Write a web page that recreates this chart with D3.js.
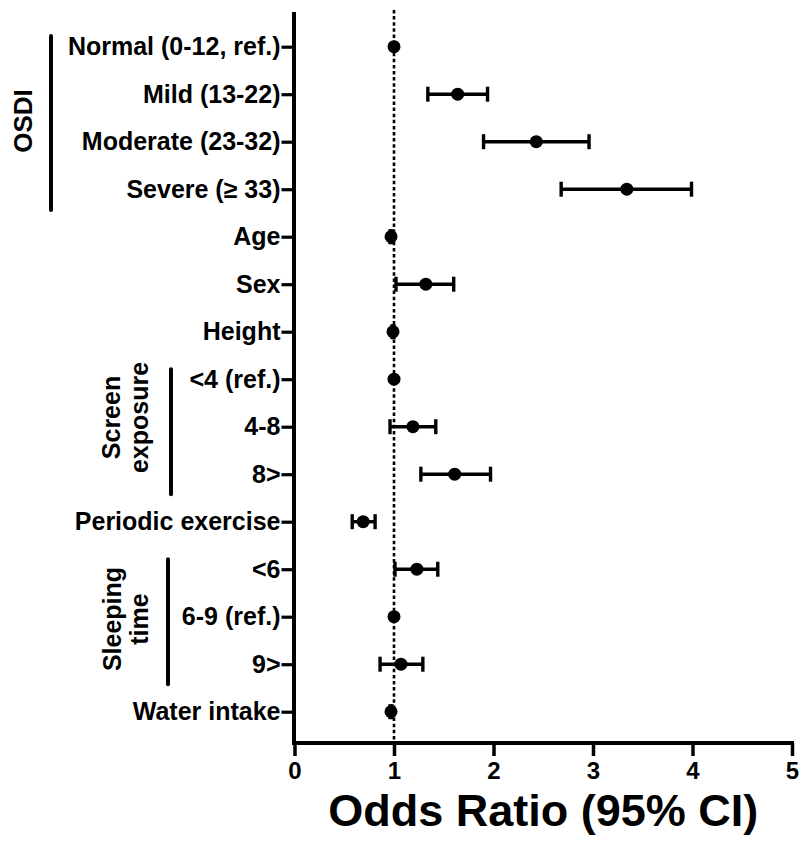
<!DOCTYPE html>
<html><head><meta charset="utf-8">
<script src="https://cdn.jsdelivr.net/npm/d3@7"></script>
<style>body{margin:0;background:#fff}</style>
</head><body><svg id="c" width="808" height="847"></svg>
<script>
const categories = ["Normal (0-12, ref.)","Mild (13-22)","Moderate (23-32)","Severe (\u2265 33)","Age","Sex","Height","<4 (ref.)","4-8","8>","Periodic exercise","<6","6-9 (ref.)","9>","Water intake"];
const oddsRatio = [1.00, 1.64, 2.43, 3.34, 0.97, 1.32, 0.99, 1.00, 1.19, 1.61, 0.69, 1.23, 1.00, 1.07, 0.97];
const ciLow     = [null, 1.34, 1.90, 2.68, 0.96, 1.02, 0.98, null, 0.96, 1.27, 0.58, 1.01, null, 0.86, 0.96];
const ciHigh    = [null, 1.94, 2.96, 3.99, 0.98, 1.60, 1.00, null, 1.42, 1.97, 0.81, 1.44, null, 1.29, 0.98];
const xTicks = [0, 1, 2, 3, 4, 5];
const groupNames = [["OSDI"], ["Screen", "exposure"], ["Sleeping", "time"]];
const groupFrom = ["Normal (0-12, ref.)", "<4 (ref.)", "<6"];
const groupTo = ["Severe (\u2265 33)", "8>", "9>"];
const refValue = 1;
const xTitle = "Odds Ratio (95% CI)";

const FONT = "'Liberation Sans', Arial, Helvetica, sans-serif";
const svg = d3.select("#c").style("font-family", FONT);
const x = d3.scaleLinear().domain([0, 5]).range([294.5, 792]);
const y = d3.scalePoint().domain(categories).range([46.7, 711.7]);
const axisY0 = 12, axisY1 = 743;

// reference dotted line
svg.append("line")
  .attr("x1", x(refValue)).attr("x2", x(refValue))
  .attr("y1", 10).attr("y2", axisY1)
  .attr("stroke", "#000").attr("stroke-width", 2.6)
  .attr("stroke-dasharray", "3.5,2.6");

// y axis
const gy = svg.append("g").attr("transform", `translate(${x(0)},0)`)
  .call(d3.axisLeft(y).tickSize(13).tickPadding(1));
gy.select(".domain").remove();
gy.selectAll(".tick line").attr("stroke", "#000").attr("stroke-width", 3.2);
gy.selectAll(".tick text").attr("font-size", 25).attr("font-weight", "bold")
  .attr("fill", "#000").attr("font-family", FONT);
svg.append("line").attr("x1", x(0) - 0.5).attr("x2", x(0) - 0.5)
  .attr("y1", axisY0).attr("y2", axisY1 + 2)
  .attr("stroke", "#000").attr("stroke-width", 4);

// x axis
const gx = svg.append("g").attr("transform", `translate(0,${axisY1})`)
  .call(d3.axisBottom(x).tickValues(xTicks).tickFormat(d3.format("d")).tickSize(13).tickPadding(6));
gx.select(".domain").remove();
gx.selectAll(".tick line").attr("stroke", "#000").attr("stroke-width", 3.5);
gx.selectAll(".tick text").attr("font-size", 24).attr("font-weight", "bold")
  .attr("fill", "#000").attr("font-family", FONT);
svg.append("line").attr("x1", x(0) - 2.5).attr("x2", x(5) + 2)
  .attr("y1", axisY1).attr("y2", axisY1)
  .attr("stroke", "#000").attr("stroke-width", 4);

// error bars
const rows = categories.map((c, i) => ({c, or: oddsRatio[i], lo: ciLow[i], hi: ciHigh[i]}));
const eb = svg.append("g").attr("stroke", "#000").attr("stroke-width", 3.4);
rows.filter(d => d.lo != null).forEach(d => {
  eb.append("line").attr("x1", x(d.lo)).attr("x2", x(d.hi)).attr("y1", y(d.c)).attr("y2", y(d.c));
  [d.lo, d.hi].forEach(v => eb.append("line").attr("x1", x(v)).attr("x2", x(v))
    .attr("y1", y(d.c) - 7.5).attr("y2", y(d.c) + 7.5));
});
svg.append("g").selectAll("circle").data(rows).join("circle")
  .attr("cx", d => x(d.or)).attr("cy", d => y(d.c)).attr("r", 6.5).attr("fill", "#000");

// group brackets and labels
const bracketX = [51, 171, 168];
const labelBase = [[32], [120, 148], [121, 148]];
const labelSize = [26, 25, 25];
groupNames.forEach((names, gi) => {
  const y0 = y(groupFrom[gi]) - 10, y1 = y(groupTo[gi]) + 20;
  svg.append("line").attr("x1", bracketX[gi]).attr("x2", bracketX[gi])
    .attr("y1", gi === 0 ? 36 : y0).attr("y2", gi === 0 ? 210 : y1)
    .attr("stroke", "#000").attr("stroke-width", 4).attr("stroke-linecap", "round");
  const cy = gi === 0 ? 121 : (gi === 1 ? 417.5 : 619);
  names.forEach((n, li) => {
    svg.append("text").text(n)
      .attr("transform", `translate(${labelBase[gi][li]},${cy}) rotate(-90)`)
      .attr("text-anchor", "middle").attr("font-size", labelSize[gi]).attr("font-weight", "bold")
      .attr("fill", "#000");
  });
});

// x title
svg.append("text").text(xTitle)
  .attr("x", (x(0) + x(5)) / 2).attr("y", 826)
  .attr("text-anchor", "middle").attr("font-size", 45).attr("font-weight", "bold")
  .attr("fill", "#000");
</script></body></html>
